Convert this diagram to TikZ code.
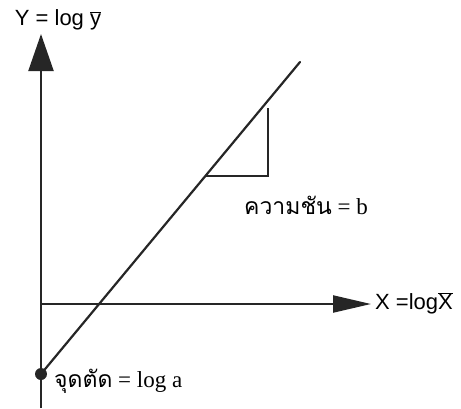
\documentclass[tikz,border=0pt]{standalone}
\usepackage{fontspec}
\setmainfont{Liberation Serif}
\newfontfamily\axisfont{Liberation Sans}
\newfontfamily\thaifont[Script=Thai]{Loma}
\usetikzlibrary{arrows.meta,positioning}
\tikzset{
  axis/.style={line width=2.2pt, black!85},
  axisY/.style={axis, -{Triangle[length=37pt, width=25pt]}},
  axisX/.style={axis, -{Triangle[length=38pt, width=17pt]}},
  fitline/.style={line width=2.2pt, black!85, line cap=round},
  slope/.style={line width=2.2pt, black!85},
  axislabel/.style={font=\axisfont\fontsize{22}{26}\selectfont, inner sep=0pt},
  thailabel/.style={font=\fontsize{23}{27}\selectfont, inner sep=0pt},
  dot/.style={circle, fill=black!85, minimum size=12pt, inner sep=0pt},
}
\begin{document}
\begin{tikzpicture}[x=1pt, y=-1pt]
\useasboundingbox (0,0) rectangle (461,408);
% axes
\coordinate (ybot) at (41,408);
\coordinate (ytop) at (41,34);
\coordinate (xleft) at (41,304);
\coordinate (xright) at (371,304);
\draw[axisY] (ybot) -- (ytop);
\draw[axisX] (xleft) -- (xright);
% straight line and intercept
\node[dot] (icpt) at (41,374) {};
\coordinate (lineend) at (300,62);
\draw[fitline] (icpt.center) -- (lineend);
% slope triangle
\coordinate (sa) at (205,176);
\coordinate (sb) at (268,176);
\coordinate (sc) at (268,108);
\draw[slope] (sa) -- (sb) -- (sc);
% labels
\node[axislabel] (ylab) at (58,20) {Y = log $\overline{\hbox{\axisfont y}}$};
\node[axislabel, anchor=west] (xlab) at (375,303) {X =log$\overline{\hbox{\axisfont X}}$};
\node[thailabel] (slab) at (306,205) {{\thaifont ความชัน} = b};
\node[thailabel, anchor=west] (ilab) at (54,381) {{\thaifont จุดตัด} = log a};
\end{tikzpicture}
\end{document}
